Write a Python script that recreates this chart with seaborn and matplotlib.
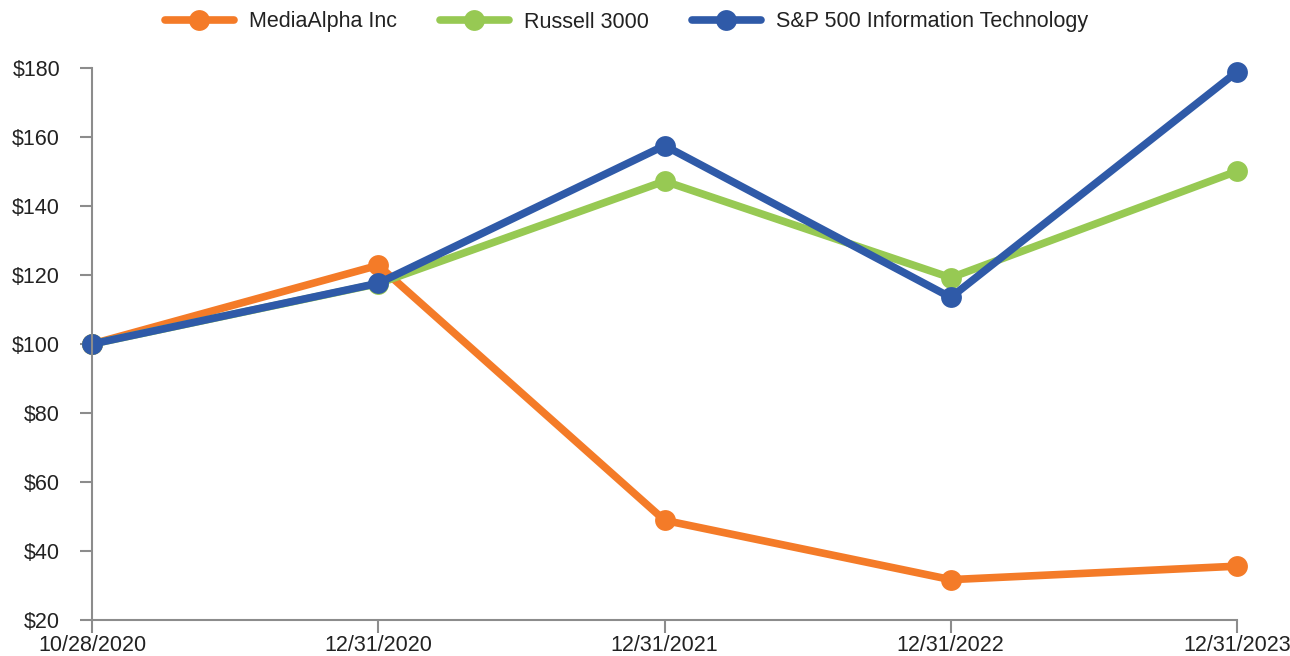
import pandas as pd
import matplotlib.pyplot as plt
import seaborn as sns

# Data
dates = ["10/28/2020", "12/31/2020", "12/31/2021", "12/31/2022", "12/31/2023"]
mediaalpha = [100.0, 122.8, 48.9, 31.7, 35.6]
russell = [100.0, 117.5, 147.2, 119.2, 150.1]
sp_it = [100.0, 117.6, 157.5, 113.5, 178.9]

series_names = ["MediaAlpha Inc", "Russell 3000", "S&P 500 Information Technology"]
colors = ["#F47B28", "#97C953", "#2F5AA8"]

df = pd.DataFrame({
    "pos": list(range(len(dates))) * 3,
    "value": mediaalpha + russell + sp_it,
    "series": [s for s in series_names for _ in dates],
})

sns.set_style("white")
plt.rcParams['font.family'] = ['Liberation Sans', 'DejaVu Sans']

fig = plt.figure(figsize=(12.9, 6.56), dpi=100)
ax = fig.add_axes([92 / 1290, 36 / 656, (1237 - 92) / 1290, (620 - 68) / 656])

sns.lineplot(data=df, x="pos", y="value", hue="series", palette=colors,
             marker="o", markersize=15, markeredgewidth=0, linewidth=5.5,
             ax=ax, clip_on=False)

ax.set_xlim(0, 4)
ax.set_ylim(20, 180)
ax.set_xticks(range(len(dates)))
ax.set_xticklabels(dates)
ax.set_yticks(range(20, 181, 20))
ax.set_yticklabels([f"${v}" for v in range(20, 181, 20)])
ax.set_xlabel("")
ax.set_ylabel("")

for s in ["top", "right"]:
    ax.spines[s].set_visible(False)
for s in ["left", "bottom"]:
    ax.spines[s].set_color("#8C8C8C")
    ax.spines[s].set_linewidth(1.5)
ax.tick_params(axis="both", which="major", direction="out", length=9, width=1.5,
               color="#8C8C8C", labelsize=15.5, labelcolor="#222222",
               bottom=True, left=True)
ax.tick_params(axis="y", pad=14)
ax.tick_params(axis="x", pad=2)

handles, labels = ax.get_legend_handles_labels()
ax.legend(handles, labels, loc="center", bbox_to_anchor=(0.5 - 38 / 1145, 1 + 46 / 552),
          ncol=3, frameon=False, fontsize=15.5, handlelength=3.2, columnspacing=2.0,
          handletextpad=0.7, labelcolor="#222222")

fig.savefig("out.png", dpi=100)
